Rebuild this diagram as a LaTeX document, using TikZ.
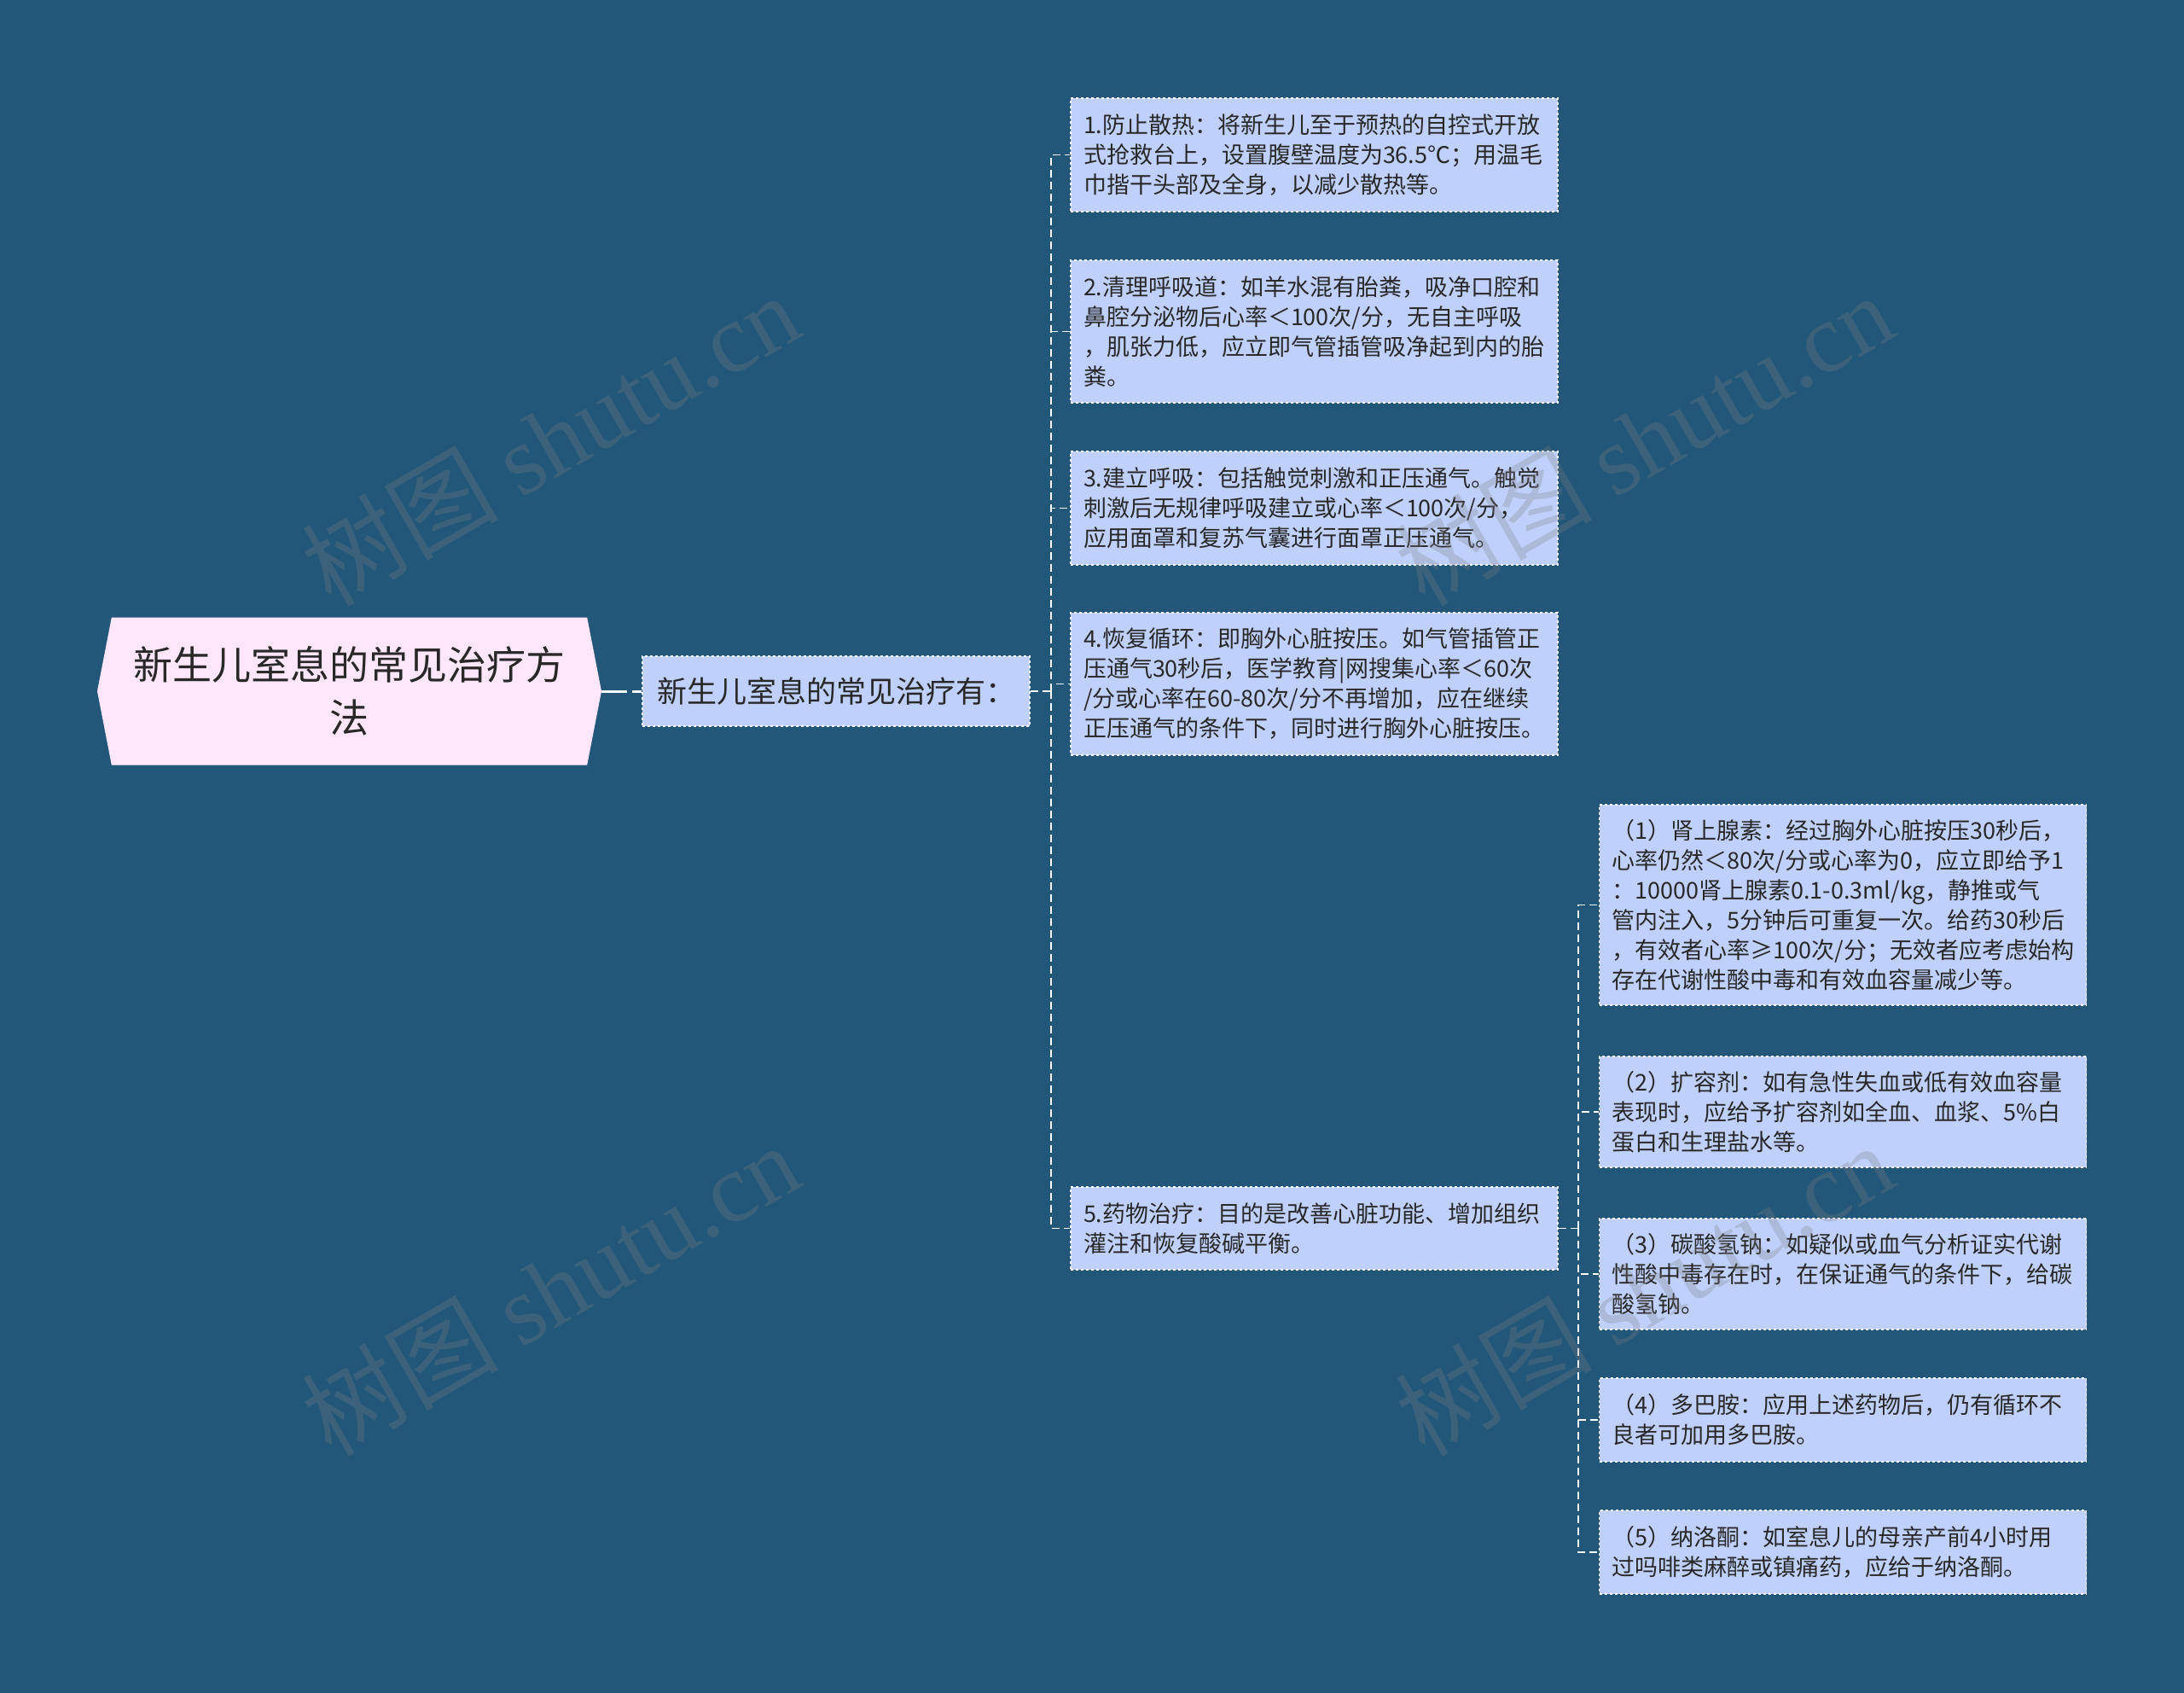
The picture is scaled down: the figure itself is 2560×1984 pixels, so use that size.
\documentclass[tikz,border=0pt]{standalone}
\usepackage{fontspec}
\setmainfont{Noto Sans CJK SC}
\newfontfamily\wmfont{Liberation Serif}
\usepackage{tikz}
\usetikzlibrary{shapes.symbols}

\definecolor{bgblue}{RGB}{34,87,122}
\definecolor{boxblue}{RGB}{190,208,251}
\definecolor{rootpink}{RGB}{255,230,251}
\definecolor{txtgray}{RGB}{40,40,40}

\tikzset{
  rootbox/.style={shape=signal, signal to=west and east, signal pointer angle=158,
    fill=rootpink, draw=none, minimum width=591pt, minimum height=173pt,
    inner sep=0pt, align=center, text=txtgray,
    font=\fontsize{46}{62}\selectfont},
  midbox/.style={rectangle, fill=boxblue, draw=white, dashed, line width=1.5pt,
    minimum width=454pt, minimum height=82pt, text=txtgray,
    font=\fontsize{35}{40}\selectfont},
  leafbox/.style={rectangle, fill=boxblue, draw=white, dashed, line width=1.5pt,
    text width=541pt, inner xsep=15pt, inner ysep=0pt, align=left, text=txtgray,
    font=\fontsize{27}{35}\selectfont},
  link/.style={draw=white, line width=3pt, dash pattern=on 30pt off 6pt},
  branch/.style={draw=white, line width=1.5pt, dash pattern=on 9pt off 5pt},
  wmark/.style={rotate=30, text=gray, text opacity=0.28, font=\fontsize{115}{115}\selectfont}
}

\begin{document}
\begin{tikzpicture}[x=1pt,y=-1pt]
      \fill[bgblue] (0,0) rectangle (2560,1984);
      \useasboundingbox (0,0) rectangle (2560,1984);

      % root and first level
      \node[rootbox] (root) at (409.5,810) {新生儿室息的常见治疗方\\法};
      \node[midbox] (mid) at (980,810) {新生儿室息的常见治疗有：};

      % second level
      \node[leafbox, minimum height=133pt] (t1) at (1540.5,181.5)
        {1.防止散热：将新生儿至于预热的自控式开放\\式抢救台上，设置腹壁温度为36.5℃；用温毛\\巾揩干头部及全身，以减少散热等。};
      \node[leafbox, minimum height=167pt] (t2) at (1540.5,388.5)
        {2.清理呼吸道：如羊水混有胎粪，吸净口腔和\\鼻腔分泌物后心率＜100次/分，无自主呼吸\\，肌张力低，应立即气管插管吸净起到内的胎\\粪。};
      \node[leafbox, minimum height=133pt] (t3) at (1540.5,595.5)
        {3.建立呼吸：包括触觉刺激和正压通气。触觉\\刺激后无规律呼吸建立或心率＜100次/分，\\应用面罩和复苏气囊进行面罩正压通气。};
      \node[leafbox, minimum height=167pt] (t4) at (1540.5,801.5)
        {4.恢复循环：即胸外心脏按压。如气管插管正\\压通气30秒后，医学教育|网搜集心率＜60次\\/分或心率在60-80次/分不再增加，应在继续\\正压通气的条件下，同时进行胸外心脏按压。};
      \node[leafbox, minimum height=97pt] (t5) at (1540.5,1439.5)
        {5.药物治疗：目的是改善心脏功能、增加组织\\灌注和恢复酸碱平衡。};

      % third level
      \node[leafbox, minimum height=235pt] (d1) at (2160,1060.5)
        {（1）肾上腺素：经过胸外心脏按压30秒后，\\心率仍然＜80次/分或心率为0，应立即给予1\\：10000肾上腺素0.1-0.3ml/kg，静推或气\\管内注入，5分钟后可重复一次。给药30秒后\\，有效者心率≥100次/分；无效者应考虑始构\\存在代谢性酸中毒和有效血容量减少等。};
      \node[leafbox, minimum height=130pt] (d2) at (2160,1303)
        {（2）扩容剂：如有急性失血或低有效血容量\\表现时，应给予扩容剂如全血、血浆、5\%白\\蛋白和生理盐水等。};
      \node[leafbox, minimum height=130pt] (d3) at (2160,1493)
        {（3）碳酸氢钠：如疑似或血气分析证实代谢\\性酸中毒存在时，在保证通气的条件下，给碳\\酸氢钠。};
      \node[leafbox, minimum height=98pt] (d4) at (2160,1664)
        {（4）多巴胺：应用上述药物后，仍有循环不\\良者可加用多巴胺。};
      \node[leafbox, minimum height=98pt] (d5) at (2160,1819)
        {（5）纳洛酮：如室息儿的母亲产前4小时用\\过吗啡类麻醉或镇痛药，应给于纳洛酮。};

      % connectors
      \coordinate (j1) at (1232,810);
      \coordinate (j2) at (1850,1439.5);
      \draw[link] (root.east) -- (mid.west);
      \draw[branch] (mid.east) -- (j1);
      \foreach \n in {t1,t2,t3,t4,t5}
        \draw[branch] (j1) |- (\n.west);
      \draw[branch] (t5.east) -- (j2);
      \foreach \n in {d1,d2,d3,d4,d5}
        \draw[branch] (j2) |- (\n.west);

      % watermarks
      \foreach \wx/\wy in {645/514, 1927/514, 645/1510, 1927/1510}
        \node[wmark] at (\wx,\wy) {树图 {\wmfont shutu.cn}};
\end{tikzpicture}
\end{document}
